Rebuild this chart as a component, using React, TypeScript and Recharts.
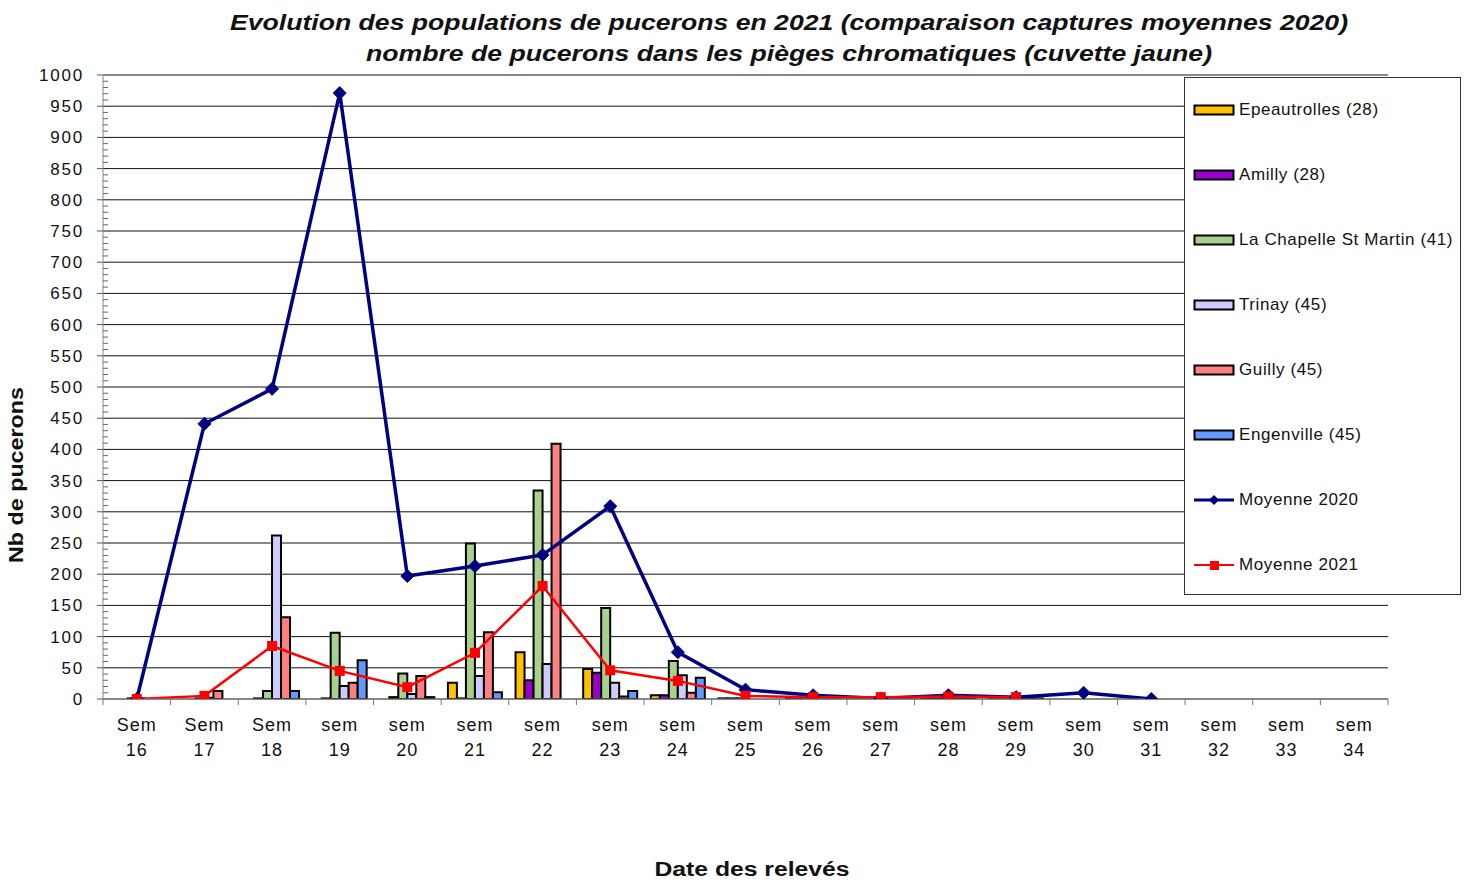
import React from 'react';
import { ComposedChart, Bar, Line, XAxis, YAxis, CartesianGrid, Legend } from 'recharts';

const weeks = [
  'Sem 16', 'Sem 17', 'Sem 18', 'sem 19', 'sem 20', 'sem 21', 'sem 22', 'sem 23', 'sem 24', 'sem 25',
  'sem 26', 'sem 27', 'sem 28', 'sem 29', 'sem 30', 'sem 31', 'sem 32', 'sem 33', 'sem 34',
];
const epeautrolles = [0, 0, 0, 0, 0, 26, 75, 48, 6, 1, 1, 1, 1, 1, null, null, null, null, null];
const amilly = [0, 0, 1, 1, 3, 1, 30, 42, 6, 1, 1, 1, 1, 1, null, null, null, null, null];
const chapelle = [1, 1, 13, 106, 41, 249, 334, 146, 61, 1, 2, 3, 2, 1, null, null, null, null, null];
const trinay = [1, 2, 262, 21, 8, 37, 56, 26, 38, 0, 1, 1, 1, 1, null, null, null, null, null];
const guilly = [0, 13, 131, 26, 37, 107, 409, 4, 10, 0, 1, 1, 1, 1, null, null, null, null, null];
const engenville = [0, 0, 13, 62, 3, 11, 0, 13, 34, 0, 1, 1, 1, 1, null, null, null, null, null];
const moyenne2020 = [0, 441, 497, 971, 197, 213, 231, 309, 75, 15, 6, 1, 6, 3, 10, 0, null, null, null];
const moyenne2021 = [0, 5, 85, 45, 19, 74, 181, 46, 29, 5, 3, 3, 4, 3, null, null, null, null, null];

const yMajorTicks = [0, 50, 100, 150, 200, 250, 300, 350, 400, 450, 500, 550, 600, 650, 700, 750, 800, 850, 900, 950, 1000];
const yAllTicks = Array.from({ length: 101 }, (_, i) => i * 10);

const data = weeks.map((w, i) => ({
  week: w,
  epeautrolles: epeautrolles[i],
  amilly: amilly[i],
  chapelle: chapelle[i],
  trinay: trinay[i],
  guilly: guilly[i],
  engenville: engenville[i],
  m2020: moyenne2020[i],
  m2021: moyenne2021[i],
}));

const barSeries = [
  { key: 'epeautrolles', name: 'Epeautrolles (28)', color: '#FFC000' },
  { key: 'amilly', name: 'Amilly (28)', color: '#9900CC' },
  { key: 'chapelle', name: 'La Chapelle St Martin (41)', color: '#A9D18E' },
  { key: 'trinay', name: 'Trinay (45)', color: '#CCCCFF' },
  { key: 'guilly', name: 'Guilly (45)', color: '#FF8080' },
  { key: 'engenville', name: 'Engenville (45)', color: '#6699FF' },
];
const lineSeries = [
  { key: 'm2020', name: 'Moyenne 2020', color: '#000080' },
  { key: 'm2021', name: 'Moyenne 2021', color: '#FF0000' },
];

const W = 1470;
const H = 884;
const MARGIN = { top: 75, right: 82, bottom: 125, left: 40 };
const Y_AXIS_W = 63;
const PLOT_LEFT = MARGIN.left + Y_AXIS_W;
const PLOT_RIGHT = W - MARGIN.right;
const BAND = (PLOT_RIGHT - PLOT_LEFT) / weeks.length;
const FONT = '"Liberation Sans", Arial, sans-serif';

const XTick = (props: any) => {
  const { x, y, payload, index } = props;
  const parts = String(payload.value).split(' ');
  return (
    <g>
      <line x1={x - BAND / 2} x2={x - BAND / 2} y1={y} y2={y + 6} stroke="#777" />
      {index === weeks.length - 1 && (
        <line x1={x + BAND / 2} x2={x + BAND / 2} y1={y} y2={y + 6} stroke="#777" />
      )}
      <text x={x} y={y + 32} textAnchor="middle" fontSize={18} fontFamily={FONT} fill="#111" letterSpacing={1}>
        {parts[0]}
      </text>
      <text x={x} y={y + 57} textAnchor="middle" fontSize={18} fontFamily={FONT} fill="#111" letterSpacing={1}>
        {parts[1]}
      </text>
    </g>
  );
};

const YTick = (props: any) => {
  const { x, y, payload } = props;
  const v = payload.value;
  if (v % 50 === 0) {
    return (
      <g>
        <line x1={x - 6} x2={x} y1={y} y2={y} stroke="#555" />
        <text x={x - 19} y={y + 6} textAnchor="end" fontSize={17} fontFamily={FONT} fill="#111" letterSpacing={1.8}>
          {v}
        </text>
      </g>
    );
  }
  return <line x1={x} x2={x + 5} y1={y} y2={y} stroke="#666" />;
};

const Diamond = (props: any) => {
  const { cx, cy } = props;
  if (cx == null || cy == null || props.value == null) return null;
  const s = 6.5;
  return <polygon points={`${cx},${cy - s} ${cx + s},${cy} ${cx},${cy + s} ${cx - s},${cy}`} fill="#000080" stroke="#000080" />;
};

const Square = (props: any) => {
  const { cx, cy } = props;
  if (cx == null || cy == null || props.value == null) return null;
  return <rect x={cx - 5} y={cy - 5} width={10} height={10} fill="#FF0000" />;
};

const LegendBox = () => (
  <div
    style={{
      width: 277,
      height: 518,
      boxSizing: 'border-box',
      border: '1px solid #333',
      background: '#fff',
      position: 'relative',
      fontFamily: FONT,
    }}
  >
    {[...barSeries, ...lineSeries].map((s, i) => {
      const top = 32 + i * 65;
      const isLine = s.key === 'm2020' || s.key === 'm2021';
      return (
        <div key={s.key} style={{ position: 'absolute', left: 0, top: top - 12, height: 24, width: 277 }}>
          <svg width={50} height={24} style={{ position: 'absolute', left: 7, top: 0 }}>
            {isLine ? (
              <g>
                <line x1={2} x2={42} y1={12} y2={12} stroke={s.color} strokeWidth={s.key === 'm2020' ? 3 : 2} />
                {s.key === 'm2020' ? (
                  <polygon points="22,7 27,12 22,17 17,12" fill={s.color} />
                ) : (
                  <rect x={18} y={8} width={9} height={9} fill={s.color} />
                )}
              </g>
            ) : (
              <rect x={2.5} y={7.5} width={39} height={9} fill={s.color} stroke="#000" strokeWidth={2} />
            )}
          </svg>
          <span
            style={{
              position: 'absolute',
              left: 54,
              top: 2,
              fontSize: 17,
              lineHeight: '20px',
              color: '#111',
              letterSpacing: 0.6,
              whiteSpace: 'nowrap',
            }}
          >
            {s.name}
          </span>
        </div>
      );
    })}
  </div>
);

export default function App() {
  return (
    <div style={{ position: 'absolute', left: 0, top: 0, width: W, height: H, background: '#fff' }}>
      <ComposedChart width={W} height={H} data={data} margin={MARGIN} barCategoryGap="10%" barGap={0}>
        <CartesianGrid horizontalValues={yMajorTicks} vertical={false} stroke="#111" strokeWidth={1} />
        <XAxis
          dataKey="week"
          interval={0}
          tickSize={0}
          tickMargin={0}
          tickLine={false}
          axisLine={{ stroke: '#888' }}
          height={60}
          tick={XTick}
        />
        <YAxis
          type="number"
          domain={[0, 1000]}
          ticks={yAllTicks}
          interval={0}
          tickSize={0}
          tickMargin={0}
          tickLine={false}
          axisLine={{ stroke: '#888' }}
          width={Y_AXIS_W}
          tick={YTick}
          allowDataOverflow
        />
        {barSeries.map((s) => (
          <Bar
            key={s.key}
            dataKey={s.key}
            name={s.name}
            fill={s.color}
            stroke="#000"
            strokeWidth={2}
            isAnimationActive={false}
          />
        ))}
        <Line
          dataKey="m2020"
          name="Moyenne 2020"
          stroke="#000080"
          strokeWidth={3.5}
          dot={Diamond}
          activeDot={false}
          isAnimationActive={false}
          connectNulls={false}
        />
        <Line
          dataKey="m2021"
          name="Moyenne 2021"
          stroke="#FF0000"
          strokeWidth={2.5}
          dot={Square}
          activeDot={false}
          isAnimationActive={false}
          connectNulls={false}
        />
        <Legend
          layout="vertical"
          align="center"
          verticalAlign="middle"
          wrapperStyle={{ position: 'absolute', left: 1184, top: 77, width: 277, height: 518 }}
          content={() => <LegendBox />}
        />
      </ComposedChart>
      <svg
        width={W}
        height={H}
        style={{ position: 'absolute', left: 0, top: 0, pointerEvents: 'none' }}
      >
        <text
          x={789}
          y={30}
          textAnchor="middle"
          fontFamily={FONT}
          fontSize={22}
          fontWeight="bold"
          fontStyle="italic"
          fill="#111"
          textLength={1118}
          lengthAdjust="spacingAndGlyphs"
        >
          Evolution des populations de pucerons en 2021 (comparaison captures moyennes 2020)
        </text>
        <text
          x={789}
          y={61}
          textAnchor="middle"
          fontFamily={FONT}
          fontSize={22}
          fontWeight="bold"
          fontStyle="italic"
          fill="#111"
          textLength={846}
          lengthAdjust="spacingAndGlyphs"
        >
          nombre de pucerons dans les pièges chromatiques (cuvette jaune)
        </text>
        <text
          transform="translate(23,475) rotate(-90)"
          x={0}
          y={0}
          textAnchor="middle"
          fontFamily={FONT}
          fontSize={20}
          fontWeight="bold"
          fill="#111"
          textLength={176}
          lengthAdjust="spacingAndGlyphs"
        >
          Nb de pucerons
        </text>
        <text
          x={752}
          y={876}
          textAnchor="middle"
          fontFamily={FONT}
          fontSize={20}
          fontWeight="bold"
          fill="#111"
          textLength={195}
          lengthAdjust="spacingAndGlyphs"
        >
          Date des relevés
        </text>
      </svg>
    </div>
  );
}
